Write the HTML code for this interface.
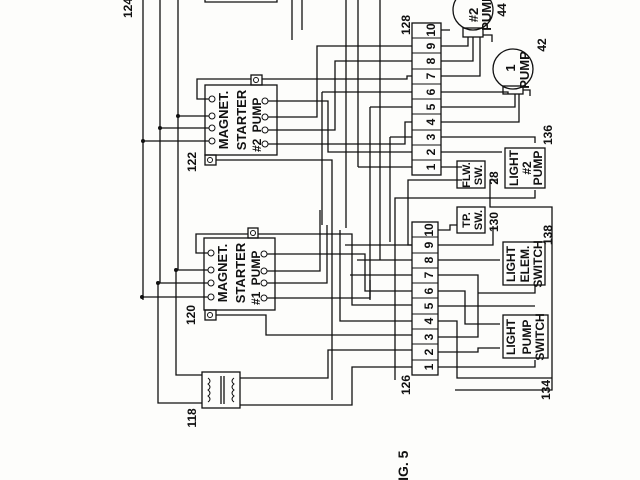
<!DOCTYPE html>
<html><head><style>
html,body{margin:0;padding:0;background:#fff;}
svg{display:block}
text{font-family:"Liberation Sans",sans-serif;font-weight:bold;fill:#111}
</style></head><body>
<svg width="640" height="480" viewBox="0 0 640 480" xmlns="http://www.w3.org/2000/svg">
<rect width="640" height="480" fill="#fdfdfb"/>
<g fill="none" stroke="#111" stroke-width="1.3">
<path d="M143 0V300M160 0V283M178 0V270"/>
<path d="M143 141H212M160 128H212M178 116H212"/>
<path d="M143 297H211M158 283H211M176 270H211"/>
<path d="M176 270V375H202M158 283V403H202"/>
<path d="M205 0V2H277V0"/>
<path d="M292 0V40M302 0V30"/>
<rect x="205" y="85" width="72" height="70"/>
<rect x="251" y="75" width="11" height="10"/>
<rect x="205" y="155" width="11" height="10"/>
<path d="M212 99H197V79H251M262 79H407V76H412"/>
<path d="M268 101H328V152H412"/>
<path d="M268 117H317V46H412"/>
<path d="M268 130H335V61H412"/>
<path d="M268 144H405V122H412"/>
<path d="M216 160H332V400"/>
<path d="M322 92H412M322 92V225M370 107H412M370 107V300"/>
<path d="M358 167H412M358 0V167M390 137H412M390 137V242"/>
<path d="M346 0V228M380 0V260"/>
<rect x="412" y="23" width="29" height="152"/>
<circle cx="473" cy="10" r="20"/>
<circle cx="513" cy="69" r="20"/>
<rect x="463" y="28" width="20" height="9"/>
<rect x="503" y="86" width="20" height="8"/>
<path d="M441 30H450M441 46H468V37M441 61H473V37M441 76H480V37"/>
<path d="M441 92H508V94M441 107H515V94M441 122H519V94"/>
<path d="M441 137H535V143M441 152H502M441 167H462"/>
<path d="M483 35H492V42M523 90H530V96"/>
<rect x="457" y="161" width="28" height="27"/>
<rect x="505" y="148" width="40" height="40"/>
<path d="M462 180H408V245H412"/>
<path d="M535 190V198H395V380"/>
<path d="M498 180H490V207H552V390H455"/>
<rect x="457" y="207" width="28" height="26"/>
<rect x="204" y="238" width="71" height="72"/>
<rect x="248" y="228" width="10" height="10"/>
<rect x="205" y="310" width="11" height="10"/>
<path d="M211 253H196V234H248M258 234H352V305H412"/>
<path d="M267 254H365V291H412"/>
<path d="M267 271H320V210"/>
<path d="M267 283H327V225"/>
<path d="M267 298H370V280"/>
<path d="M216 315H266V335H412"/>
<path d="M340 230V321H412M357 260H412M350 275H412M345 245H412"/>
<rect x="412" y="222" width="26" height="153"/>
<path d="M438 230H450V225H457M438 245H493V226M438 260H500M438 275H478V337H438"/>
<path d="M438 291H465V324H500M438 306H535M438 321H457V378H552M438 352H478V348H500M438 367H535V360"/>
<rect x="503" y="242" width="42" height="43"/>
<rect x="503" y="315" width="45" height="43"/>
<path d="M535 285V293H478"/>
<rect x="202" y="372" width="38" height="36"/>
<path d="M240 378H328V350H412M240 405H352V367H412"/>
<path d="M221 376V404M224 376V404"/>
<path d="M208 378q4 3 0 6q4 3 0 6q4 3 0 6q4 3 0 6M234 378q-4 3 0 6q-4 3 0 6q-4 3 0 6q-4 3 0 6" stroke-width="1"/>
</g>
<g fill="#fff" stroke="#111" stroke-width="1">
<circle cx="212" cy="99" r="3"/><circle cx="212" cy="116" r="3"/><circle cx="212" cy="128" r="3"/><circle cx="212" cy="141" r="3"/>
<circle cx="265" cy="101" r="3"/><circle cx="265" cy="117" r="3"/><circle cx="265" cy="130" r="3"/><circle cx="265" cy="144" r="3"/>
<circle cx="211" cy="253" r="3"/><circle cx="211" cy="270" r="3"/><circle cx="211" cy="283" r="3"/><circle cx="211" cy="297" r="3"/>
<circle cx="264" cy="254" r="3"/><circle cx="264" cy="271" r="3"/><circle cx="264" cy="283" r="3"/><circle cx="264" cy="298" r="3"/>
<circle cx="256" cy="80" r="2.5"/><circle cx="210" cy="160" r="2.5"/><circle cx="253" cy="233" r="2.5"/><circle cx="210" cy="315" r="2.5"/>
</g>
<g fill="#111">
<circle cx="143" cy="141" r="2"/><circle cx="160" cy="128" r="2"/><circle cx="178" cy="116" r="2"/>
<circle cx="142" cy="297" r="2"/><circle cx="158" cy="283" r="2"/><circle cx="176" cy="270" r="2"/>
</g>
<g font-size="13">
<text transform="translate(228,120) rotate(-90)" text-anchor="middle">MAGNET.</text>
<text transform="translate(246,120) rotate(-90)" text-anchor="middle">STARTER</text>
<text transform="translate(261,115) rotate(-90)" text-anchor="middle" font-size="12">PUMP</text>
<text transform="translate(261,152) rotate(-90)" font-size="12">#2</text>
<text transform="translate(227,273) rotate(-90)" text-anchor="middle">MAGNET.</text>
<text transform="translate(245,273) rotate(-90)" text-anchor="middle">STARTER</text>
<text transform="translate(260,268) rotate(-90)" text-anchor="middle" font-size="12">PUMP</text>
<text transform="translate(260,305) rotate(-90)" font-size="12">#1</text>
<text transform="translate(478,15) rotate(-90)" text-anchor="middle">#2</text>
<text transform="translate(491,12) rotate(-90)" text-anchor="middle">PUMP</text>
<text transform="translate(515,68) rotate(-90)" text-anchor="middle">1</text>
<text transform="translate(529,70) rotate(-90)" text-anchor="middle">PUMP</text>
<text transform="translate(470,175) rotate(-90)" text-anchor="middle" font-size="11">FLW.</text>
<text transform="translate(482,175) rotate(-90)" text-anchor="middle" font-size="11">SW.</text>
<text transform="translate(470,220) rotate(-90)" text-anchor="middle" font-size="11">TP.</text>
<text transform="translate(482,220) rotate(-90)" text-anchor="middle" font-size="11">SW.</text>
<text transform="translate(518,168) rotate(-90)" text-anchor="middle" font-size="12">LIGHT</text>
<text transform="translate(531,168) rotate(-90)" text-anchor="middle" font-size="12">#2</text>
<text transform="translate(542,168) rotate(-90)" text-anchor="middle" font-size="12">PUMP</text>
<text transform="translate(515,264) rotate(-90)" text-anchor="middle" font-size="12">LIGHT</text>
<text transform="translate(529,264) rotate(-90)" text-anchor="middle" font-size="12">ELEM.</text>
<text transform="translate(542,264) rotate(-90)" text-anchor="middle" font-size="12">SWITCH</text>
<text transform="translate(515,337) rotate(-90)" text-anchor="middle" font-size="12">LIGHT</text>
<text transform="translate(531,337) rotate(-90)" text-anchor="middle" font-size="12">PUMP</text>
<text transform="translate(544,337) rotate(-90)" text-anchor="middle" font-size="12">SWITCH</text>
<text transform="translate(408,470) rotate(-90)" text-anchor="middle" font-size="14">FIG. 5</text>
</g>
<g font-size="12" font-weight="normal">
<text transform="translate(132,8) rotate(-90)" text-anchor="middle">124</text>
<text transform="translate(196,162) rotate(-90)" text-anchor="middle">122</text>
<text transform="translate(195,315) rotate(-90)" text-anchor="middle">120</text>
<text transform="translate(196,418) rotate(-90)" text-anchor="middle">118</text>
<text transform="translate(410,25) rotate(-90)" text-anchor="middle">128</text>
<text transform="translate(410,385) rotate(-90)" text-anchor="middle">126</text>
<text transform="translate(506,10) rotate(-90)" text-anchor="middle">44</text>
<text transform="translate(546,45) rotate(-90)" text-anchor="middle">42</text>
<text transform="translate(552,135) rotate(-90)" text-anchor="middle">136</text>
<text transform="translate(498,178) rotate(-90)" text-anchor="middle">28</text>
<text transform="translate(498,222) rotate(-90)" text-anchor="middle">130</text>
<text transform="translate(552,235) rotate(-90)" text-anchor="middle">138</text>
<text transform="translate(550,390) rotate(-90)" text-anchor="middle">134</text>
</g>
<g font-size="12" text-anchor="middle">
<text transform="translate(431,30) rotate(-90)" dy="4">10</text>
<text transform="translate(431,46) rotate(-90)" dy="4">9</text>
<text transform="translate(431,61) rotate(-90)" dy="4">8</text>
<text transform="translate(431,76) rotate(-90)" dy="4">7</text>
<text transform="translate(431,92) rotate(-90)" dy="4">6</text>
<text transform="translate(431,107) rotate(-90)" dy="4">5</text>
<text transform="translate(431,122) rotate(-90)" dy="4">4</text>
<text transform="translate(431,137) rotate(-90)" dy="4">3</text>
<text transform="translate(431,152) rotate(-90)" dy="4">2</text>
<text transform="translate(431,167) rotate(-90)" dy="4">1</text>
<text transform="translate(429,230) rotate(-90)" dy="4">10</text>
<text transform="translate(429,245) rotate(-90)" dy="4">9</text>
<text transform="translate(429,260) rotate(-90)" dy="4">8</text>
<text transform="translate(429,275) rotate(-90)" dy="4">7</text>
<text transform="translate(429,291) rotate(-90)" dy="4">6</text>
<text transform="translate(429,306) rotate(-90)" dy="4">5</text>
<text transform="translate(429,321) rotate(-90)" dy="4">4</text>
<text transform="translate(429,337) rotate(-90)" dy="4">3</text>
<text transform="translate(429,352) rotate(-90)" dy="4">2</text>
<text transform="translate(429,367) rotate(-90)" dy="4">1</text>
</g>
<g stroke="#111" stroke-width="1">
<path d="M412 38H441M412 53H441M412 69H441M412 84H441M412 99H441M412 114H441M412 130H441M412 145H441M412 160H441"/>
<path d="M412 237H438M412 253H438M412 268H438M412 283H438M412 298H438M412 314H438M412 329H438M412 344H438M412 360H438"/>
</g>
</svg>
</body></html>
